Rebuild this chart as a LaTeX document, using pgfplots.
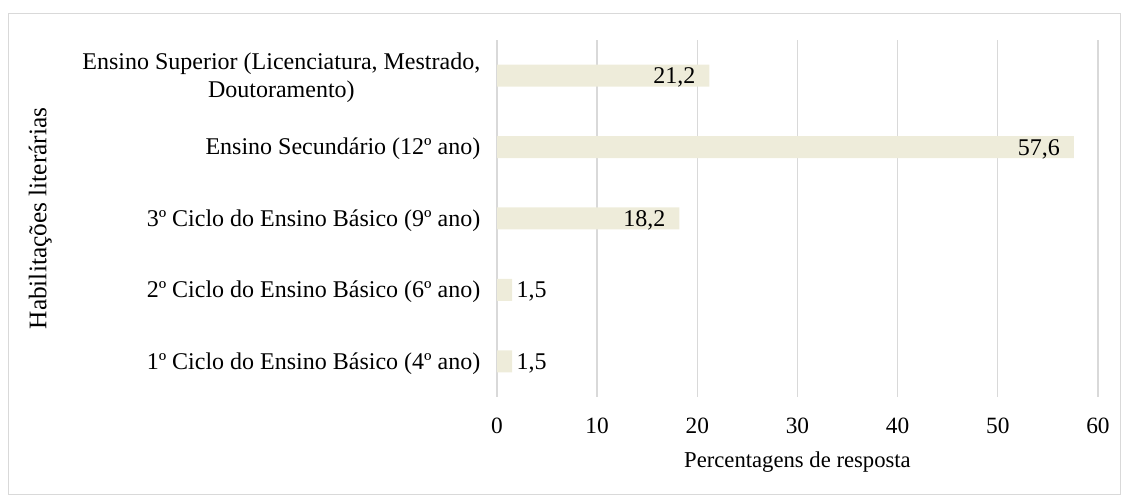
\documentclass[border=0pt]{standalone}
\usepackage{pgfplots}
\pgfplotsset{compat=1.18}
\usepackage{fontspec}
\setmainfont{Liberation Serif}
\definecolor{barfill}{RGB}{238,236,218}
\definecolor{gridgray}{RGB}{217,217,217}
\begin{document}
\begin{tikzpicture}
\useasboundingbox (0,0) rectangle (846pt,377.25pt);
\draw[gridgray, line width=0.75pt] (6pt,6pt) rectangle (840pt,366.75pt);
\begin{axis}[
    at={(372.75pt,79.5pt)}, anchor=south west,
    width=450.75pt, height=267.75pt, scale only axis,
    font=\fontsize{18}{21.5}\selectfont,
    xmin=0, xmax=60, ymin=-0.5, ymax=4.5,
    xtick={0,10,...,60},
    ytick={0,1,2,3,4},
    yticklabels={1º Ciclo do Ensino Básico (4º ano),
                 2º Ciclo do Ensino Básico (6º ano),
                 3º Ciclo do Ensino Básico (9º ano),
                 Ensino Secundário (12º ano),
                 {Ensino Superior (Licenciatura, Mestrado,\\Doutoramento)}},
    yticklabel style={align=center, xshift=-9pt, yshift=-1.5pt},
    xticklabel style={yshift=-12pt, font=\fontsize{17.5}{20}\selectfont},
    /pgf/number format/assume math mode=true,
    major tick length=0pt,
    axis line style={draw=none},
    xmajorgrids, grid style={gridgray, line width=1pt},
    xlabel={Percentagens de resposta},
    ylabel={Habilitações literárias},
    xlabel style={at={(axis description cs:0.5,-0.182)}, anchor=center,
        font=\fontsize{17}{20}\selectfont},
    ylabel style={at={(axis description cs:-0.76,0.5)}, anchor=center,
        font=\fontsize{19}{22}\selectfont},
    xbar, bar shift=0pt, bar width=16.5pt,
    nodes near coords,
    nodes near coords style={yshift=-1.5pt, /pgf/number format/use comma,
        /pgf/number format/fixed, /pgf/number format/fixed zerofill,
        /pgf/number format/precision=1},
]
\addplot[fill=barfill, draw=none,
    every node near coord/.append style={anchor=east, xshift=-7pt}]
    coordinates {(18.2,2) (57.6,3) (21.2,4)};
\addplot[fill=barfill, draw=none,
    every node near coord/.append style={anchor=west}]
    coordinates {(1.5,0) (1.5,1)};
\end{axis}
\end{tikzpicture}
\end{document}
